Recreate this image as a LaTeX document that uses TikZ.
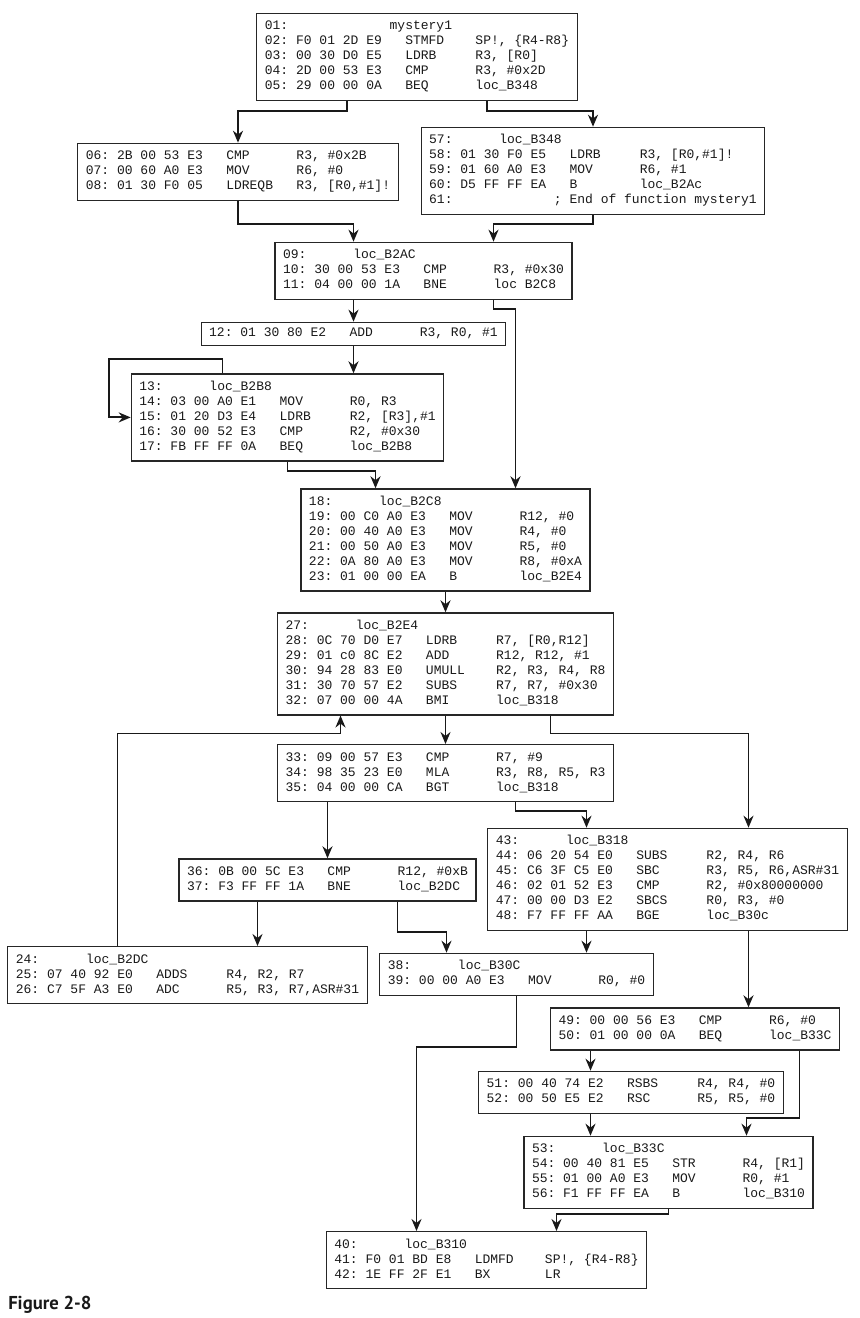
\documentclass[tikz,border=0pt]{standalone}
\usepackage{fontspec}
\setmonofont{Liberation Mono}
\newfontfamily\capfont{PT Sans}
\usetikzlibrary{arrows.meta,calc}

% one listing line: address, bytes, mnemonic, operands
\newcommand\asmline[4]{\strut\makebox[2.4em][l]{#1}\makebox[8.4em][l]{#2}\makebox[5.4em][l]{#3}#4}
% label line
\newcommand\asmlabel[3][5.4em]{\strut\makebox[#1][l]{#2}#3}

\tikzset{
  block/.style={draw=black!85, line width=0.9pt, anchor=north, align=left,
    inner xsep=6pt, inner ysep=4.5pt, text=black!90,
    font=\ttfamily\fontsize{9.75}{11.25}\selectfont},
  flow/.style={->, draw=black!90, line width=1.45pt},
}

\begin{document}
\begin{tikzpicture}[>={Stealth[length=9pt,width=7.5pt]}, x=0.75pt, y=-0.75pt]
    \useasboundingbox (0,0) rectangle (860,1318);
    % Blocks
    \node[block] (A) at (417,12.7) {\asmlabel[9.6em]{01:}{mystery1}\\
      \asmline{02:}{F0 01 2D E9}{STMFD}{SP!, \{R4-R8\}}\\
      \asmline{03:}{00 30 D0 E5}{LDRB}{R3, [R0]}\\
      \asmline{04:}{2D 00 53 E3}{CMP}{R3, \#0x2D}\\
      \asmline{05:}{29 00 00 0A}{BEQ}{loc\_B348}};
    \node[block] (B) at (238,142.7) {\asmline{06:}{2B 00 53 E3}{CMP}{R3, \#0x2B}\\
      \asmline{07:}{00 60 A0 E3}{MOV}{R6, \#0}\\
      \asmline{08:}{01 30 F0 05}{LDREQB}{R3, [R0,\#1]!}};
    \node[block] (C) at (593,126.7) {\asmlabel{57:}{loc\_B348}\\
      \asmline{58:}{01 30 F0 E5}{LDRB}{R3, [R0,\#1]!}\\
      \asmline{59:}{01 60 A0 E3}{MOV}{R6, \#1}\\
      \asmline{60:}{D5 FF FF EA}{B}{loc\_B2Ac}\\
      \asmlabel[9.6em]{61:}{; End of function mystery1}};
    \node[block] (D) at (423.5,241.7) {\asmlabel{09:}{loc\_B2AC}\\
      \asmline{10:}{30 00 53 E3}{CMP}{R3, \#0x30}\\
      \asmline{11:}{04 00 00 1A}{BNE}{loc B2C8}};
    \node[block, inner ysep=3pt] (E) at (353.5,321.7) {\asmline{12:}{01 30 80 E2}{ADD}{R3, R0, \#1}};
    \node[block] (F) at (287.5,373.3) {\asmlabel{13:}{loc\_B2B8}\\
      \asmline{14:}{03 00 A0 E1}{MOV}{R0, R3}\\
      \asmline{15:}{01 20 D3 E4}{LDRB}{R2, [R3],\#1}\\
      \asmline{16:}{30 00 52 E3}{CMP}{R2, \#0x30}\\
      \asmline{17:}{FB FF FF 0A}{BEQ}{loc\_B2B8}};
    \node[block] (G) at (445.5,488.3) {\asmlabel{18:}{loc\_B2C8}\\
      \asmline{19:}{00 C0 A0 E3}{MOV}{R12, \#0}\\
      \asmline{20:}{00 40 A0 E3}{MOV}{R4, \#0}\\
      \asmline{21:}{00 50 A0 E3}{MOV}{R5, \#0}\\
      \asmline{22:}{0A 80 A0 E3}{MOV}{R8, \#0xA}\\
      \asmline{23:}{01 00 00 EA}{B}{loc\_B2E4}};
    \node[block] (H) at (445.5,612.3) {\asmlabel{27:}{loc\_B2E4}\\
      \asmline{28:}{0C 70 D0 E7}{LDRB}{R7, [R0,R12]}\\
      \asmline{29:}{01 c0 8C E2}{ADD}{R12, R12, \#1}\\
      \asmline{30:}{94 28 83 E0}{UMULL}{R2, R3, R4, R8}\\
      \asmline{31:}{30 70 57 E2}{SUBS}{R7, R7, \#0x30}\\
      \asmline{32:}{07 00 00 4A}{BMI}{loc\_B318}};
    \node[block] (I) at (445.5,744) {\asmline{33:}{09 00 57 E3}{CMP}{R7, \#9}\\
      \asmline{34:}{98 35 23 E0}{MLA}{R3, R8, R5, R3}\\
      \asmline{35:}{04 00 00 CA}{BGT}{loc\_B318}};
    \node[block] (J) at (667.5,827.7) {\asmlabel{43:}{loc\_B318}\\
      \asmline{44:}{06 20 54 E0}{SUBS}{R2, R4, R6}\\
      \asmline{45:}{C6 3F C5 E0}{SBC}{R3, R5, R6,ASR\#31}\\
      \asmline{46:}{02 01 52 E3}{CMP}{R2, \#0x80000000}\\
      \asmline{47:}{00 00 D3 E2}{SBCS}{R0, R3, \#0}\\
      \asmline{48:}{F7 FF FF AA}{BGE}{loc\_B30c}};
    \node[block] (K) at (327.5,858.3) {\asmline{36:}{0B 00 5C E3}{CMP}{R12, \#0xB}\\
      \asmline{37:}{F3 FF FF 1A}{BNE}{loc\_B2DC}};
    \node[block] (L) at (187.5,946) {\asmlabel{24:}{loc\_B2DC}\\
      \asmline{25:}{07 40 92 E0}{ADDS}{R4, R2, R7}\\
      \asmline{26:}{C7 5F A3 E0}{ADC}{R5, R3, R7,ASR\#31}};
    \node[block] (M) at (516.5,952.7) {\asmlabel{38:}{loc\_B30C}\\
      \asmline{39:}{00 00 A0 E3}{MOV}{R0, \#0}};
    \node[block] (N) at (695,1007.3) {\asmline{49:}{00 00 56 E3}{CMP}{R6, \#0}\\
      \asmline{50:}{01 00 00 0A}{BEQ}{loc\_B33C}};
    \node[block] (O) at (631,1070.7) {\asmline{51:}{00 40 74 E2}{RSBS}{R4, R4, \#0}\\
      \asmline{52:}{00 50 E5 E2}{RSC}{R5, R5, \#0}};
    \node[block] (P) at (668.5,1135.7) {\asmlabel{53:}{loc\_B33C}\\
      \asmline{54:}{00 40 81 E5}{STR}{R4, [R1]}\\
      \asmline{55:}{01 00 A0 E3}{MOV}{R0, \#1}\\
      \asmline{56:}{F1 FF FF EA}{B}{loc\_B310}};
    \node[block] (Q) at (486.5,1231) {\asmlabel{40:}{loc\_B310}\\
      \asmline{41:}{F0 01 BD E8}{LDMFD}{SP!, \{R4-R8\}}\\
      \asmline{42:}{1E FF 2F E1}{BX}{LR}};
    % Caption
    \node[anchor=base west, inner sep=0pt, font=\capfont\bfseries\fontsize{14}{16}\selectfont, text=black!90] (cap) at (8,1309) {Figure 2-8};
    % Edges
    \draw[flow] ($(A.south)+(-70,0)$) -- ++(0,10) -| (B);
    \draw[flow] ($(A.south)+(70,0)$) -- ++(0,10) -| (C);
    \draw[flow] (B) |- ($(D.north)+(-70,-18)$) -- ($(D.north)+(-70,0)$);
    \draw[flow] (C) |- ($(D.north)+(70,-18)$) -- ($(D.north)+(70,0)$);
    \draw[flow] (D.south -| E.north) -- (E.north);
    \draw[flow] ($(D.south)+(70,0)$) -- ++(0,9) -| ($(G.north)+(70,0)$);
    \draw[flow] (E.south) -- (E.south |- F.north);
    \draw[flow] ($(F.north)+(-65,0)$) -- ++(0,-14) -| ($(F.west)+(-22,0)$) -- (F.west);
    \draw[flow] (F) |- ($(G.north)+(-70,-17)$) -- ($(G.north)+(-70,0)$);
    \draw[flow] (G) -- (H);
    \draw[flow] (H) -- (I);
    \draw[flow] ($(L.north)+(-70,0)$) |- ($(H.south)+(-105,18)$) -- ($(H.south)+(-105,0)$);
    \draw[flow] ($(H.south)+(105,0)$) -- ++(0,18) -| ($(J.north)+(81,0)$);
    \draw[flow] (I.south -| K.north) -- (K.north);
    \draw[flow] ($(I.south)+(70,0)$) -- ++(0,9) -| ($(J.north)+(-81,0)$);
    \draw[flow] ($(K.south)+(-70,0)$) -- ($(L.north)+(70,0)$);
    \draw[flow] ($(K.south)+(70,0)$) |- ($(M.north)+(-70,-21)$) -- ($(M.north)+(-70,0)$);
    \draw[flow] ($(J.south)+(-81,0)$) -- ($(M.north)+(70,0)$);
    \draw[flow] ($(J.south)+(81,0)$) -- ($(N.north)+(53.5,0)$);
    \draw[flow] (M.south) -- ++(0,51) -| ($(Q.north)+(-70,0)$);
    \draw[flow] ($(N.south)+(-104.5,0)$) -- ($(O.north)+(-40.5,0)$);
    \draw[flow] ($(N.south)+(104.5,0)$) |- ($(P.north)+(78,-18)$) -- ($(P.north)+(78,0)$);
    \draw[flow] ($(O.south)+(-40.5,0)$) -- ($(P.north)+(-78,0)$);
    \draw[flow] (P) |- ($(Q.north)+(70,-17)$) -- ($(Q.north)+(70,0)$);
\end{tikzpicture}
\end{document}
